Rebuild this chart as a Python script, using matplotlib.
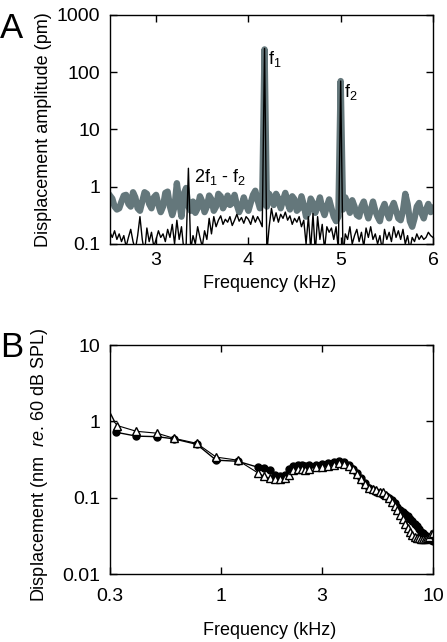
import numpy as np
import matplotlib
matplotlib.use('Agg')
import matplotlib.pyplot as plt
from matplotlib.ticker import FixedLocator, FixedFormatter, NullLocator

plt.rcParams['font.family'] = ['Liberation Sans', 'DejaVu Sans']
plt.rcParams['mathtext.fontset'] = 'custom'
plt.rcParams['mathtext.rm'] = 'Liberation Sans'
plt.rcParams['mathtext.it'] = 'Liberation Sans:italic'

# panel A: spectrum, 25 Hz bins from 2.5 to 6 kHz
freq_a = np.round(np.arange(2.5, 6.0001, 0.025), 3)
black_a = [
    0.16, 0.13, 0.17, 0.12, 0.15, 0.11, 0.14, 0.09, 0.13, 0.18, 0.11, 0.08,
    0.14, 0.30, 0.12, 0.07, 0.19, 0.11, 0.16, 0.09, 0.12, 0.17, 0.13, 0.15,
    0.11, 0.18, 0.13, 0.22, 0.10, 0.26, 0.12, 0.20, 0.08, 0.09, 2.1, 0.08,
    0.14, 0.10, 0.20, 0.13, 0.09, 0.17, 0.12, 0.28, 0.15, 0.30, 0.20, 0.26,
    0.31, 0.22, 0.27, 0.24, 0.30, 0.21, 0.26, 0.33, 0.25, 0.29, 0.23, 0.30,
    0.27, 0.22, 0.31, 0.24, 0.30, 0.25, 0.20, 260, 0.07, 0.20, 0.42, 0.25,
    0.35, 0.24, 0.33, 0.28, 0.36, 0.26, 0.31, 0.22, 0.28, 0.24, 0.30, 0.20,
    0.26, 0.10, 0.30, 0.08, 0.34, 0.07, 0.30, 0.12, 0.22, 0.08, 0.20, 0.16,
    0.19, 0.12, 0.20, 0.08, 70, 0.06, 0.15, 0.12, 0.20, 0.10, 0.14, 0.18,
    0.11, 0.16, 0.09, 0.19, 0.13, 0.20, 0.12, 0.15, 0.10, 0.14, 0.08, 0.18,
    0.12, 0.16, 0.11, 0.20, 0.13, 0.17, 0.12, 0.18, 0.10, 0.14, 0.08, 0.13,
    0.11, 0.15, 0.12, 0.14, 0.12, 0.13, 0.16, 0.14, 0.13,
]
gray_a = [
    0.70, 0.62, 0.45, 0.40, 0.42, 0.55, 0.70, 0.72, 0.50, 0.45, 0.80, 0.65,
    0.42, 0.38, 0.55, 0.80, 0.75, 0.50, 0.42, 0.65, 0.72, 0.48, 0.36, 0.45,
    0.78, 0.82, 0.45, 0.32, 0.45, 1.15, 0.55, 0.30, 0.75, 0.95, 0.45, 0.38,
    0.55, 0.35, 0.42, 0.68, 0.55, 0.36, 0.45, 0.70, 0.60, 0.38, 0.45, 0.75,
    0.68, 0.42, 0.52, 0.70, 0.48, 0.52, 0.72, 0.48, 0.36, 0.45, 0.65, 0.48,
    0.38, 0.52, 0.72, 0.85, 0.58, 0.42, 0.55, 250, 0.45, 0.75, 0.62, 0.48,
    0.75, 0.62, 0.42, 0.58, 0.78, 0.52, 0.40, 0.68, 0.60, 0.38, 0.42, 0.68,
    0.48, 0.30, 0.35, 0.62, 0.52, 0.35, 0.45, 0.65, 0.42, 0.32, 0.45, 0.60,
    0.42, 0.30, 0.25, 0.30, 70, 0.40, 0.65, 0.50, 0.35, 0.58, 0.45, 0.32,
    0.30, 0.45, 0.55, 0.38, 0.28, 0.38, 0.55, 0.38, 0.30, 0.25, 0.40, 0.50,
    0.35, 0.28, 0.42, 0.52, 0.38, 0.28, 0.26, 0.38, 0.75, 0.50, 0.25, 0.20,
    0.28, 0.45, 0.52, 0.35, 0.28, 0.40, 0.50, 0.36, 0.42,
]

# panel B: displacement re. 60 dB SPL
freq_circ = [0.32, 0.4, 0.5, 0.6, 0.77, 0.95, 1.2,
             1.5, 1.6, 1.7, 1.8, 1.9, 2.0, 2.1, 2.2, 2.3, 2.4, 2.5, 2.6, 2.8,
             3.0, 3.2, 3.4, 3.6, 3.8, 4.0, 4.2, 4.4, 4.6, 4.8, 5.0, 5.2, 5.4,
             5.6, 5.8, 6.0, 6.2, 6.4, 6.6, 6.8, 7.0, 7.2, 7.4, 7.6, 7.8, 8.0,
             8.2, 8.4, 8.6, 8.8, 9.0, 9.2, 9.4, 9.6, 9.8, 10.0]
disp_circ = [0.72, 0.64, 0.63, 0.59, 0.50, 0.31, 0.30,
             0.25, 0.245, 0.23, 0.20, 0.19, 0.20, 0.24, 0.26, 0.27, 0.265,
             0.26, 0.265, 0.27, 0.28, 0.285, 0.29, 0.30, 0.29, 0.27, 0.24,
             0.21, 0.18, 0.155, 0.135, 0.125, 0.12, 0.115, 0.11, 0.105, 0.10,
             0.093, 0.085, 0.075, 0.068, 0.064, 0.061, 0.058, 0.053, 0.049,
             0.045, 0.042, 0.039, 0.036, 0.034, 0.032, 0.030, 0.029, 0.028,
             0.027]
freq_tri = [0.3, 0.325, 0.4, 0.5, 0.6, 0.77, 0.95, 1.2,
            1.5, 1.6, 1.7, 1.8, 1.9, 2.0, 2.1, 2.2, 2.3, 2.4, 2.5, 2.6, 2.8,
            3.0, 3.2, 3.4, 3.6, 3.8, 4.0, 4.2, 4.4, 4.6, 4.8, 5.0, 5.2, 5.4,
            5.6, 5.8, 6.0, 6.2, 6.4, 6.6, 6.8, 7.0, 7.2, 7.4, 7.6, 7.8, 8.0,
            8.2, 8.4, 8.6, 8.8, 9.0, 9.2, 9.4, 9.6, 9.8, 10.0]
disp_tri = [1.15, 0.88, 0.74, 0.70, 0.60, 0.515, 0.34, 0.31,
            0.21, 0.19, 0.18, 0.175, 0.175, 0.18, 0.20, 0.23, 0.24, 0.235,
            0.23, 0.24, 0.25, 0.255, 0.26, 0.27, 0.285, 0.28, 0.26, 0.235,
            0.205, 0.175, 0.15, 0.135, 0.128, 0.125, 0.12, 0.118, 0.11, 0.10,
            0.088, 0.078, 0.07, 0.06, 0.052, 0.045, 0.04, 0.035, 0.032, 0.031,
            0.030, 0.030, 0.029, 0.029, 0.029, 0.030, 0.031, 0.033, 0.034]

fig = plt.figure(figsize=(4.47, 6.42), dpi=100)
axA = fig.add_axes([0.246, 0.620, 0.7226, 0.3567])
axB = fig.add_axes([0.246, 0.1059, 0.7226, 0.3567])

for ax in (axA, axB):
    for s in ax.spines.values():
        s.set_linewidth(1.0)
    ax.tick_params(direction='in', top=True, right=True, length=5, width=1.0,
                   labelsize=14)
    ax.tick_params(axis='y', pad=7)
    ax.tick_params(which='minor', length=0)

# --- A
axA.plot(freq_a, gray_a, color='#64777b', lw=4.6)
axA.plot(freq_a, black_a, color='black', lw=1.0)
axA.set_yscale('log')
axA.set_xlim(2.5, 6)
axA.set_ylim(0.1, 1000)
axA.xaxis.set_major_locator(FixedLocator([3, 4, 5, 6]))
axA.yaxis.set_major_locator(FixedLocator([0.1, 1, 10, 100, 1000]))
axA.yaxis.set_major_formatter(FixedFormatter(['0.1', '1', '10', '100', '1000']))
axA.yaxis.set_minor_locator(NullLocator())
axA.tick_params(axis='x', pad=6)
axA.set_xlabel('Frequency (kHz)', fontsize=13)
axA.set_ylabel('Displacement amplitude (pm)', fontsize=13)
axA.xaxis.set_label_coords(0.495, -0.135)
axA.yaxis.set_label_coords(-0.18, 0.5)
axA.text(4.215, 170, r'f$_1$', fontsize=13, va='center')
axA.text(5.04, 45, r'f$_2$', fontsize=13, va='center')
axA.text(3.41, 1.5, r'2f$_1$ - f$_2$', fontsize=13, va='center')

# --- B
axB.plot(freq_circ, disp_circ, 'o-', color='black', ms=5, lw=1.0)
axB.plot(freq_tri, disp_tri, '^-', color='black', mfc='white', mec='black',
         ms=6, mew=1.0, lw=0.8)
axB.set_xscale('log')
axB.set_yscale('log')
axB.set_xlim(0.3, 10)
axB.set_ylim(0.01, 10)
axB.xaxis.set_major_locator(FixedLocator([0.3, 1, 3, 10]))
axB.xaxis.set_major_formatter(FixedFormatter(['0.3', '1', '3', '10']))
axB.xaxis.set_minor_locator(NullLocator())
axB.yaxis.set_major_locator(FixedLocator([0.01, 0.1, 1, 10]))
axB.yaxis.set_major_formatter(FixedFormatter(['0.01', '0.1', '1', '10']))
axB.yaxis.set_minor_locator(NullLocator())
axB.tick_params(axis='x', pad=10)
axB.set_xlabel('Frequency (kHz)', fontsize=13)
axB.set_ylabel(r'Displacement (nm  $\it{re}$. 60 dB SPL)', fontsize=13)
axB.xaxis.set_label_coords(0.495, -0.21)
axB.yaxis.set_label_coords(-0.185, 0.476)

fig.text(0.0, 0.982, 'A', fontsize=25, va='top', ha='left')
fig.text(0.0, 0.485, 'B', fontsize=25, va='top', ha='left')

fig.savefig('out.png', dpi=100)
